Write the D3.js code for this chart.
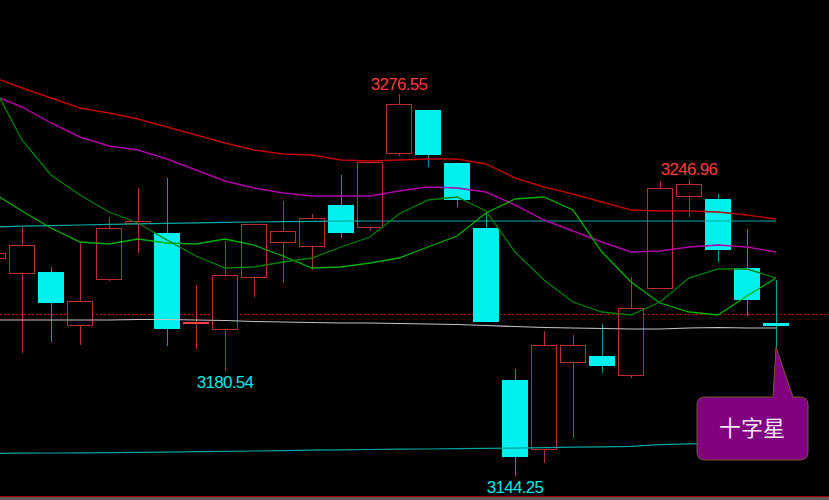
<!DOCTYPE html>
<html>
<head>
<meta charset="utf-8">
<script src="https://cdn.jsdelivr.net/npm/d3@7"></script>
<style>
  html, body { margin: 0; padding: 0; background: #000; }
  svg { display: block; }
</style>
</head>
<body>
<div id="chart"></div>
<script>
// daily candles, left to right (first one is cut off by the left edge)
const opens  = [3219.75, 3214.55, 3214.90, 3196.55, 3212.48, 3231.87, 3228.41, 3197.58, 3195.16, 3213.17, 3225.29, 3223.91, 3238.11, 3230.49, 3256.12, 3271.01, 3252.65, 3230.14, 3177.50, 3153.60, 3183.73, 3185.81, 3179.23, 3209.36, 3241.22, 3240.18, 3216.29, 3197.41]
const highs  = [3223.00, 3230.49, 3216.63, 3224.95, 3233.95, 3243.99, 3247.46, 3210.40, 3225.64, 3231.60, 3239.49, 3234.99, 3248.50, 3253.00, 3276.55, 3271.01, 3252.65, 3236.03, 3181.31, 3194.47, 3193.08, 3196.89, 3213.17, 3246.50, 3246.96, 3241.92, 3229.79, 3212.13]
const lows   = [3218.00, 3186.85, 3190.66, 3189.62, 3211.78, 3221.48, 3189.27, 3188.23, 3180.54, 3206.24, 3211.09, 3215.59, 3226.68, 3229.10, 3255.08, 3251.27, 3237.41, 3197.93, 3144.25, 3148.75, 3157.41, 3179.92, 3178.19, 3209.36, 3233.95, 3218.36, 3199.66, 3188.93]
const closes = [3221.48, 3224.25, 3204.51, 3204.86, 3230.14, 3232.56, 3195.51, 3197.58, 3213.86, 3231.53, 3229.10, 3233.60, 3228.76, 3253.00, 3273.09, 3255.77, 3240.18, 3197.93, 3151.17, 3189.62, 3189.62, 3182.69, 3202.43, 3243.99, 3245.38, 3222.87, 3205.55, 3196.55]

// moving averages
const maRed     = [3282.44, 3278.63, 3275.16, 3271.70, 3269.97, 3267.89, 3265.12, 3262.35, 3259.58, 3257.15, 3255.77, 3255.42, 3253.69, 3253.35, 3253.69, 3254.04, 3254.04, 3252.31, 3247.46, 3244.34, 3241.92, 3239.14, 3236.37, 3236.03, 3236.03, 3235.68, 3234.64, 3233.26]
const maMagenta = [3276.20, 3272.05, 3266.51, 3261.66, 3258.54, 3257.15, 3254.04, 3250.23, 3246.42, 3243.99, 3242.26, 3241.22, 3241.22, 3241.22, 3242.95, 3244.34, 3243.99, 3242.61, 3238.11, 3232.91, 3229.10, 3225.29, 3221.83, 3222.17, 3223.56, 3224.25, 3223.56, 3221.83]
const maFast    = [3279.67, 3260.62, 3248.50, 3241.57, 3235.68, 3231.87, 3225.98, 3220.44, 3216.29, 3216.63, 3218.36, 3219.75, 3223.56, 3227.02, 3234.99, 3239.84, 3240.88, 3236.03, 3221.83, 3212.13, 3204.51, 3201.05, 3200.01, 3204.51, 3212.82, 3215.94, 3215.94, 3212.82]
const maSlow    = [3242.26, 3236.03, 3230.14, 3225.29, 3224.60, 3226.33, 3224.94, 3224.60, 3226.33, 3224.25, 3220.44, 3216.29, 3216.63, 3218.02, 3219.75, 3223.56, 3227.37, 3235.34, 3240.18, 3240.88, 3236.37, 3221.83, 3211.44, 3204.16, 3201.05, 3200.01, 3206.59, 3212.82]

// channel lines and the grey line
const upperBand = [3230.49, 3230.76, 3230.97, 3231.18, 3231.39, 3231.59, 3231.77, 3231.94, 3232.08, 3232.22, 3232.32, 3232.43, 3232.49, 3232.56, 3232.56, 3232.56, 3232.56, 3232.56, 3232.56, 3232.56, 3232.56, 3232.56, 3232.56, 3232.56, 3232.56, 3232.56, 3232.56, 3232.56]
const lowerBand = [3152.07, 3152.14, 3152.21, 3152.28, 3152.35, 3152.42, 3152.52, 3152.66, 3152.80, 3152.91, 3153.04, 3153.18, 3153.29, 3153.43, 3153.53, 3153.60, 3153.70, 3153.81, 3153.91, 3154.08, 3154.22, 3154.33, 3154.53, 3155.12, 3155.36, 3155.57, 3155.78, 3156.02]
const greyLine  = [3198.28, 3198.28, 3198.28, 3198.28, 3198.28, 3198.45, 3198.45, 3198.28, 3198.10, 3197.76, 3197.58, 3197.41, 3197.24, 3197.24, 3197.06, 3196.89, 3196.72, 3196.37, 3196.03, 3195.68, 3195.51, 3195.33, 3195.16, 3195.16, 3195.51, 3195.68, 3195.51, 3195.51]
const refPrice = 3200.25

// annotated extremes (candle index)
const highMarks = [14, 24]
const lowMarks = [8, 18]
const calloutIdx = 27
const calloutText = '十字星'

const W = 829, H = 500
const UP = '#b83030', UP_DOJI = '#ff4040', DOWN = '#00f0f0', DOWN_WICK = '#00a0a0'

const svg = d3.select('#chart').append('svg')
  .attr('width', W)
  .attr('height', H)
  .style('background', '#000')

const x = d3.scaleLinear().domain([0, closes.length - 1]).range([-7, 776])
const y = d3.scaleLinear().domain([3144.25, 3276.55]).range([476, 94])
const px = v => Math.round(v) + 0.5

// bottom frame
svg.append('rect').attr('x', 0).attr('y', 497).attr('width', W).attr('height', 3).attr('fill', '#5a5a5a')
svg.append('line')
  .attr('x1', 0).attr('x2', W).attr('y1', 496.5).attr('y2', 496.5)
  .attr('stroke', '#a00000')

// dotted reference price
svg.append('line')
  .attr('x1', 0).attr('x2', W)
  .attr('y1', px(y(refPrice))).attr('y2', px(y(refPrice)))
  .attr('stroke', '#c00000')
  .attr('stroke-dasharray', '2,2')

// candles
const candles = d3.range(closes.length).map(i => ({
  i, o: opens[i], h: highs[i], l: lows[i], c: closes[i]
}))

const k = svg.append('g')
  .attr('shape-rendering', 'crispEdges')
  .selectAll('g')
  .data(candles)
  .join('g')

k.append('line')
  .attr('x1', d => px(x(d.i))).attr('x2', d => px(x(d.i)))
  .attr('y1', d => y(d.h)).attr('y2', d => y(d.l))
  .attr('stroke', d => d.c >= d.o ? UP : DOWN_WICK)

k.append('rect')
  .attr('x', d => Math.round(x(d.i)) - 12.5)
  .attr('width', 25)
  .attr('y', d => Math.round(y(Math.max(d.o, d.c))) + 0.5)
  .attr('height', d => Math.max(1, Math.round(y(Math.min(d.o, d.c))) - Math.round(y(Math.max(d.o, d.c)))))
  .attr('fill', d => d.c >= d.o ? (d.c === d.o ? UP_DOJI : '#000') : DOWN)
  .attr('stroke', d => d.c >= d.o ? (d.c === d.o ? UP_DOJI : UP) : DOWN)

// lines
const line = d3.line().x((d, i) => x(i)).y(d => y(d))
const series = [
  { v: upperBand, color: '#00a8a8', w: 1.2 },
  { v: lowerBand, color: '#00a0a0', w: 1.2 },
  { v: greyLine, color: '#c4c4c4', w: 1.2 },
  { v: maRed, color: '#c00000', w: 1.4 },
  { v: maMagenta, color: '#b000a8', w: 1.4 },
  { v: maSlow, color: '#00b000', w: 1.3 },
  { v: maFast, color: '#008000', w: 1.3 }
]
svg.append('g')
  .selectAll('path')
  .data(series)
  .join('path')
  .attr('d', d => line(d.v))
  .attr('fill', 'none')
  .attr('stroke', d => d.color)
  .attr('stroke-width', d => d.w)

// extreme labels
const labelFont = 'Liberation Sans, Arial, sans-serif'
svg.append('g')
  .selectAll('text')
  .data(highMarks)
  .join('text')
  .attr('x', i => x(i))
  .attr('y', i => y(highs[i]) - 4)
  .attr('text-anchor', 'middle')
  .attr('font-family', labelFont)
  .attr('font-size', 17)
  .attr('letter-spacing', -0.7)
  .attr('fill', '#ff3a3a')
  .text(i => highs[i].toFixed(2))

svg.append('g')
  .selectAll('text')
  .data(lowMarks)
  .join('text')
  .attr('x', i => x(i))
  .attr('y', i => y(lows[i]) + 17)
  .attr('text-anchor', 'middle')
  .attr('font-family', labelFont)
  .attr('font-size', 17)
  .attr('letter-spacing', -0.7)
  .attr('fill', '#00e8e8')
  .text(i => lows[i].toFixed(2))

// callout bubble pointing at the last candle
const tx = x(calloutIdx)
const ty = y(lows[calloutIdx])
const L = tx - 79, R = tx + 32, T = ty + 50, B = ty + 113, r = 8
const bubble = d3.path()
bubble.moveTo(L + r, T)
bubble.lineTo(tx - 3, T)
bubble.lineTo(tx, ty)
bubble.lineTo(tx + 17, T)
bubble.lineTo(R - r, T)
bubble.quadraticCurveTo(R, T, R, T + r)
bubble.lineTo(R, B - r)
bubble.quadraticCurveTo(R, B, R - r, B)
bubble.lineTo(L + r, B)
bubble.quadraticCurveTo(L, B, L, B - r)
bubble.lineTo(L, T + r)
bubble.quadraticCurveTo(L, T, L + r, T)
bubble.closePath()

svg.append('path')
  .attr('d', bubble.toString())
  .attr('fill', '#800080')
  .attr('stroke', '#7a5a30')

svg.append('text')
  .attr('x', tx - 24)
  .attr('y', ty + 89)
  .attr('text-anchor', 'middle')
  .attr('font-family', 'Noto Sans CJK SC, sans-serif')
  .attr('font-size', 22)
  .attr('fill', '#f4e6f4')
  .text(calloutText)
</script>
</body>
</html>
